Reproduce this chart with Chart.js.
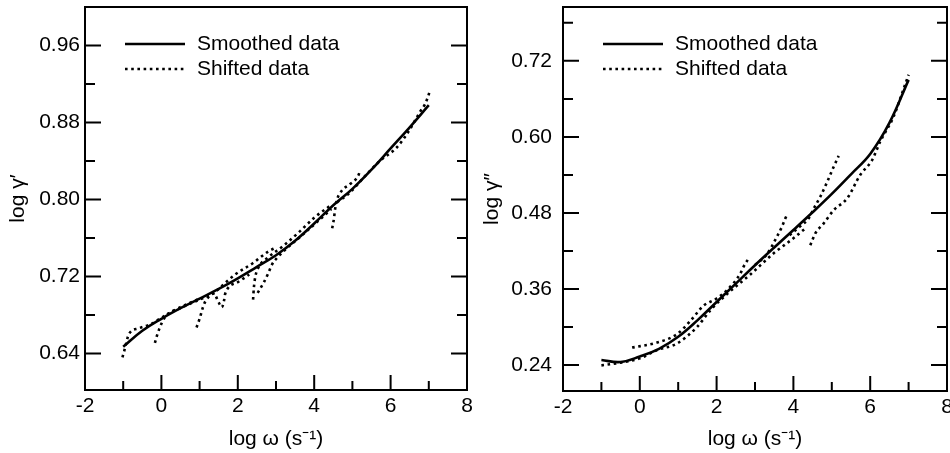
<!DOCTYPE html>
<html>
<head>
<meta charset="utf-8">
<script src="https://cdn.jsdelivr.net/npm/chart.js@4/dist/chart.umd.min.js"></script>
<style>
body { margin: 0; background: #fff; }
#wrap { width: 950px; height: 453px; position: relative; }
canvas { position: absolute; top: 0; }
</style>
</head>
<body>
<div id="wrap">
  <canvas id="chart_left" width="475" height="453" style="left:0"></canvas>
  <canvas id="chart_right" width="475" height="453" style="left:475px"></canvas>
</div>
<script>
// Two panels: storage (log gamma') and loss (log gamma'') master curves

// x axis, shared by both panels
const xMajor = [-2, 0, 2, 4, 6, 8];
const xMinor = [-1, 1, 3, 5, 7];

// left panel ticks
const leftYMajor = [0.64, 0.72, 0.80, 0.88, 0.96];
const leftYMinor = [0.68, 0.76, 0.84, 0.92];

// left panel: smoothed curve [log w, log g']
const leftSmooth = [[-1.0,0.647],[-0.5,0.6635],[0,0.676],[0.5,0.687],[1.0,0.697],[1.5,0.707],[2.0,0.718],
  [2.5,0.730],[3.0,0.742],[3.5,0.757],[4.0,0.775],[4.5,0.794],[5.0,0.811],[5.5,0.831],[6.0,0.853],[6.5,0.875],[7.0,0.898]];

// left panel: shifted data, one array per shifted run
const leftShift1 = [[-1.02,0.636],[-0.97,0.643],[-0.85,0.660],[-0.6,0.666],[-0.3,0.670],[0.0,0.677],[0.3,0.684],[0.6,0.690],[1.0,0.697]];
const leftShift2 = [[-0.17,0.651],[-0.12,0.658],[-0.06,0.665],[0.1,0.678],[0.5,0.687],[1.0,0.696],[1.4,0.703]];
const leftShift3 = [[0.92,0.667],[1.0,0.676],[1.08,0.687],[1.15,0.694],[1.5,0.707],[1.93,0.722],[2.4,0.734],[2.8,0.746],[3.0,0.750]];
const leftShift4 = [[1.43,0.699],[1.50,0.693],[1.58,0.688],[1.64,0.695],[1.67,0.702],[2.0,0.714],[2.3,0.722]];
const leftShift5 = [[2.40,0.696],[2.42,0.708],[2.46,0.720],[2.55,0.730],[2.8,0.740],[3.2,0.752],[3.6,0.766],[4.0,0.781],[4.4,0.793]];
const leftShift6 = [[2.52,0.703],[2.67,0.713],[2.80,0.7235],[2.89,0.732],[3.02,0.739],[3.19,0.746],[3.6,0.760],[4.0,0.774],[4.45,0.790]];
const leftShift7 = [[4.47,0.770],[4.50,0.776],[4.52,0.781],[4.54,0.788],[4.6,0.800],[4.72,0.809],[4.94,0.816],[5.15,0.8245],[5.2,0.830]];
const leftShift8 = [[4.6,0.797],[4.9,0.806],[5.37,0.826],[5.72,0.840],[6.16,0.854],[6.46,0.870],[6.77,0.891],[6.9,0.899],[6.99,0.908],[7.02,0.912]];

// right panel ticks
const rightYMajor = [0.24, 0.36, 0.48, 0.60, 0.72];
const rightYMinor = [0.30, 0.42, 0.54, 0.66, 0.78];

// right panel: smoothed curve [log w, log g'']
const rightSmooth = [[-1.0,0.2478],[-0.5,0.2448],[0,0.2535],[0.5,0.2655],[1.0,0.2845],[1.5,0.3105],[2.0,0.3395],
  [2.5,0.3685],[3.0,0.3975],[3.5,0.4255],[4.0,0.453],[4.5,0.481],[5.0,0.510],[5.5,0.541],[6.0,0.573],[6.5,0.622],[7.0,0.690]];

// right panel: shifted data
const rightShift1 = [[-1.0,0.2395],[-0.68,0.242],[-0.3,0.246],[0.0,0.2505],[0.45,0.2635],[0.97,0.274],[1.49,0.300],[1.84,0.3266],
  [2.27,0.352],[2.88,0.383],[3.48,0.416],[4.0,0.440],[4.3,0.455]];
const rightShift2 = [[-0.2,0.2675],[0.45,0.2755],[0.97,0.2887],[1.32,0.3098],[1.66,0.3337],[2.0,0.345],[2.3,0.360],[2.62,0.3845],[2.70,0.395],[2.83,0.408]];
const rightShift3 = [[3.0,0.398],[3.3,0.414],[3.57,0.4423],[3.70,0.458],[3.79,0.4714],[3.85,0.479]];
const rightShift4 = [[3.9,0.445],[4.2,0.460],[4.4,0.4714],[4.53,0.487],[4.70,0.5055],[4.88,0.529],[5.05,0.553],[5.18,0.570]];
const rightShift5 = [[4.44,0.429],[4.50,0.438],[4.57,0.4477],[4.79,0.4635],[5.05,0.4845],[5.4,0.503],[5.74,0.540],[6.05,0.5635],
  [6.26,0.5925],[6.61,0.632],[6.83,0.669],[7.0,0.698]];

const FONT = "'Liberation Sans', Arial, Helvetica, sans-serif";
const FSIZE = 21;
const DOTS = [2.6, 3.6];

Chart.defaults.font.family = FONT;
Chart.defaults.color = '#000';

function toXY(pairs) {
    return pairs.map(p => ({x: p[0], y: p[1]}));
}

// frame, inward tick marks and the key, drawn on the chart area
const framePlugin = {
    id: 'frame',
    afterDraw(chart, args, opts) {
        const ctx = chart.ctx;
        const a = chart.chartArea;
        const x = chart.scales.x;
        const y = chart.scales.y;
        ctx.save();
        ctx.strokeStyle = '#000';
        ctx.lineWidth = 2;
        ctx.strokeRect(a.left, a.top, a.right - a.left, a.bottom - a.top);

        ctx.beginPath();
        xMajor.forEach(v => { const px = x.getPixelForValue(v); ctx.moveTo(px, a.bottom); ctx.lineTo(px, a.bottom - 15); });
        xMinor.forEach(v => { const px = x.getPixelForValue(v); ctx.moveTo(px, a.bottom); ctx.lineTo(px, a.bottom - 9); });
        opts.yMajor.forEach(v => {
            const py = y.getPixelForValue(v);
            ctx.moveTo(a.left, py); ctx.lineTo(a.left + 16, py);
            ctx.moveTo(a.right, py); ctx.lineTo(a.right - 16, py);
        });
        opts.yMinor.forEach(v => {
            const py = y.getPixelForValue(v);
            ctx.moveTo(a.left, py); ctx.lineTo(a.left + 10, py);
            ctx.moveTo(a.right, py); ctx.lineTo(a.right - 10, py);
        });
        ctx.stroke();

        // key
        const kx = a.left + 40;
        const ky = a.top + 37;
        ctx.lineWidth = 2.5;
        ctx.beginPath();
        ctx.moveTo(kx, ky); ctx.lineTo(kx + 60, ky);
        ctx.stroke();
        ctx.setLineDash(DOTS);
        ctx.beginPath();
        ctx.moveTo(kx, ky + 25); ctx.lineTo(kx + 60, ky + 25);
        ctx.stroke();
        ctx.setLineDash([]);
        ctx.fillStyle = '#000';
        ctx.font = FSIZE + 'px ' + FONT;
        ctx.textBaseline = 'middle';
        ctx.fillText('Smoothed data', kx + 72, ky);
        ctx.fillText('Shifted data', kx + 72, ky + 25);
        ctx.restore();
    }
};

function makePanel(canvasId, cfg) {
    const datasets = [{
        data: toXY(cfg.smooth),
        borderColor: '#000',
        borderWidth: 2.6,
        pointRadius: 0,
        tension: 0.4
    }];
    cfg.shifted.forEach(seg => {
        datasets.push({
            data: toXY(seg),
            borderColor: '#000',
            borderWidth: 2.6,
            borderDash: DOTS,
            pointRadius: 0,
            cubicInterpolationMode: 'monotone'
        });
    });

    const ctx = document.getElementById(canvasId).getContext('2d');
    return new Chart(ctx, {
        type: 'line',
        data: { datasets: datasets },
        plugins: [framePlugin],
        options: {
            responsive: false,
            animation: false,
            devicePixelRatio: 1,
            layout: { padding: cfg.padding },
            plugins: {
                legend: { display: false },
                tooltip: { enabled: false },
                frame: { yMajor: cfg.yMajor, yMinor: cfg.yMinor }
            },
            scales: {
                x: {
                    type: 'linear',
                    min: -2,
                    max: 8,
                    afterBuildTicks: s => { s.ticks = xMajor.map(v => ({value: v})); },
                    afterFit: s => { s.height = cfg.xHeight; s.paddingLeft = 0; s.paddingRight = 0; },
                    grid: { display: false, drawTicks: false },
                    border: { display: false },
                    ticks: { padding: 4, maxRotation: 0, font: { size: FSIZE }, callback: v => String(v) },
                    title: { display: true, text: 'log ω (s⁻¹)', font: { size: FSIZE }, padding: { top: 0, bottom: 1 } }
                },
                y: {
                    type: 'linear',
                    min: cfg.yMin,
                    max: cfg.yMax,
                    afterBuildTicks: s => { s.ticks = cfg.yMajor.map(v => ({value: v})); },
                    afterFit: s => { s.width = cfg.yWidth; s.paddingTop = 0; s.paddingBottom = 0; },
                    grid: { display: false, drawTicks: false },
                    border: { display: false },
                    ticks: { padding: cfg.tickPad, font: { size: FSIZE }, callback: v => v.toFixed(2) },
                    title: { display: true, text: cfg.yTitle, font: { size: FSIZE }, padding: { top: cfg.titlePad, bottom: 0 } }
                }
            }
        }
    });
}

const leftChart = makePanel('chart_left', {
    smooth: leftSmooth,
    shifted: [leftShift1, leftShift2, leftShift3, leftShift4, leftShift5, leftShift6, leftShift7, leftShift8],
    yMin: 0.602, yMax: 1.0,
    yMajor: leftYMajor, yMinor: leftYMinor,
    yTitle: 'log γ′',
    padding: { left: 0, right: 8, top: 7, bottom: 0 },
    yWidth: 85, xHeight: 63, tickPad: 5, titlePad: 6
});

const rightChart = makePanel('chart_right', {
    smooth: rightSmooth,
    shifted: [rightShift1, rightShift2, rightShift3, rightShift4, rightShift5],
    yMin: 0.199, yMax: 0.805,
    yMajor: rightYMajor, yMinor: rightYMinor,
    yTitle: 'log γ″',
    padding: { left: 0, right: 3, top: 7, bottom: 0 },
    yWidth: 88, xHeight: 62, tickPad: 11, titlePad: 5
});
</script>
</body>
</html>
